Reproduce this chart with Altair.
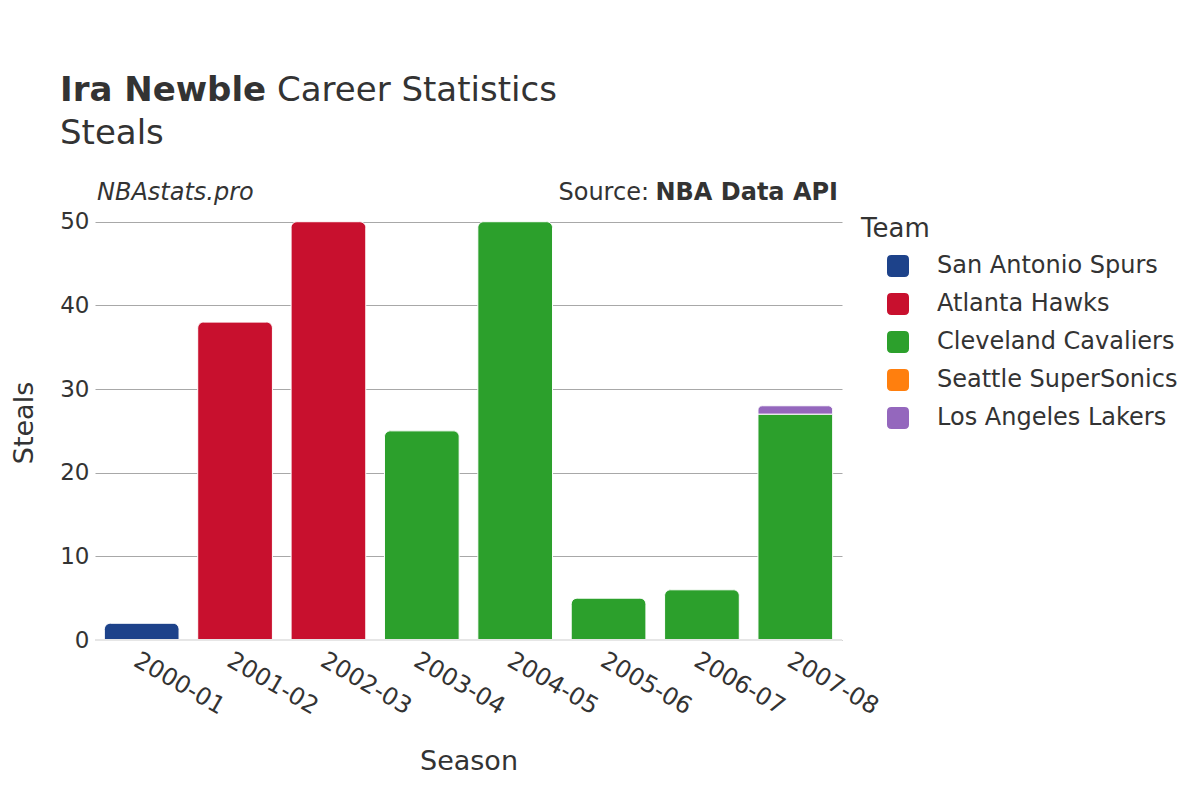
import altair as alt
import pandas as pd

seasons = ["2000-01", "2001-02", "2002-03", "2003-04", "2004-05", "2005-06", "2006-07", "2007-08", "2007-08", "2007-08"]
teams = ["San Antonio Spurs", "Atlanta Hawks", "Atlanta Hawks", "Cleveland Cavaliers", "Cleveland Cavaliers",
         "Cleveland Cavaliers", "Cleveland Cavaliers", "Cleveland Cavaliers", "Seattle SuperSonics", "Los Angeles Lakers"]
steals = [2, 38, 50, 25, 50, 5, 6, 27, 0, 1]

team_order = ["San Antonio Spurs", "Atlanta Hawks", "Cleveland Cavaliers", "Seattle SuperSonics", "Los Angeles Lakers"]
team_colors = ["#1d428a", "#c8102e", "#2ca02c", "#ff7f0e", "#9467bd"]
season_order = ["2000-01", "2001-02", "2002-03", "2003-04", "2004-05", "2005-06", "2006-07", "2007-08"]

df = pd.DataFrame({"Season": seasons, "Team": teams, "Steals": steals})
df["order"] = [team_order.index(t) for t in teams]

FONT = "DejaVu Sans"
TXT = "#333333"
rounded = "M-0.6,-1 L0.6,-1 Q1,-1 1,-0.6 L1,0.6 Q1,1 0.6,1 L-0.6,1 Q-1,1 -1,0.6 L-1,-0.6 Q-1,-1 -0.6,-1 Z"

base = alt.Chart(df).transform_filter("datum.Steals > 0").transform_stack(
    stack="Steals", groupby=["Season"], as_=["y0", "y1"], sort=[alt.SortField("order", "ascending")]
).transform_joinaggregate(top="max(y1)", groupby=["Season"])

x_enc = alt.X("Season:N", sort=season_order, scale=alt.Scale(domain=season_order, paddingInner=0.2, paddingOuter=0.1),
              axis=alt.Axis(title="Season", labelAngle=30, labelAlign="left", labelBaseline="top",
                            labelFontSize=24, titleFontSize=27, labelPadding=8, titlePadding=30,
                            ticks=False, domain=False, labelColor=TXT, titleColor=TXT, labelFont=FONT, titleFont=FONT,
                            titleFontWeight="normal"))
y_enc = alt.Y("y0:Q", scale=alt.Scale(domain=[0, 52], nice=False),
              axis=alt.Axis(title="Steals", values=[0, 10, 20, 30, 40, 50], labelFontSize=23, titleFontSize=27,
                            labelPadding=6, titlePadding=21, ticks=False, domain=False, gridColor="#a8a8a8",
                            labelColor=TXT, titleColor=TXT, labelFont=FONT, titleFont=FONT, titleFontWeight="normal"))
color_enc = alt.Color("Team:N", scale=alt.Scale(domain=team_order, range=team_colors),
                      legend=alt.Legend(title="Team", orient="none", legendX=766, legendY=11,
                                        titleFontSize=26, labelFontSize=24, titleFont=FONT, labelFont=FONT,
                                        titleColor=TXT, labelColor=TXT, titleFontWeight="normal",
                                        symbolType=rounded, symbolSize=484, symbolOpacity=1, symbolStrokeWidth=0,
                                        rowPadding=14, labelOffset=27, titlePadding=12, padding=0,
                                        symbolOffset=25, labelLimit=0))

bars_top = base.transform_filter("datum.y1 == datum.top").mark_bar(
    cornerRadiusTopLeft=6, cornerRadiusTopRight=6, stroke="white", strokeWidth=1
).encode(x=x_enc, y=y_enc, y2="y1:Q", color=color_enc)

bars_low = base.transform_filter("datum.y1 != datum.top").mark_bar(
    stroke="white", strokeWidth=1
).encode(x=x_enc, y=y_enc, y2="y1:Q", color=color_enc)

zero = alt.Chart(pd.DataFrame({"v": [0]})).mark_rule(color="#e6e6e6", strokeWidth=2).encode(y=alt.Y("v:Q"))

texts = pd.DataFrame({"t": ["Ira Newble", "Career Statistics", "Steals", "NBAstats.pro", "Source:", "NBA Data API"]})

def txt(i, x, y, size, weight="normal", style="normal", align="left"):
    return alt.Chart(texts).transform_filter(f"datum.t == '{texts.t[i]}'").mark_text(
        font=FONT, fontSize=size, fontWeight=weight, fontStyle=style, align=align, baseline="alphabetic",
        color=TXT, clip=False
    ).encode(text="t:N", x=alt.value(x), y=alt.value(y))

annotations = [
    txt(0, -35, -104, 34, weight="bold"),
    txt(1, 182, -104, 34),
    txt(2, -35, -61, 34),
    txt(3, 2, -5, 24, style="italic"),
    txt(4, 554, -5, 24, align="right"),
    txt(5, 743, -5, 24, weight="bold", align="right"),
]

chart = alt.layer(bars_low, bars_top, zero, *annotations).properties(
    width=747, height=435,
    autosize=alt.AutoSizeParams(type="none"),
    padding={"left": 87, "top": 197, "right": 350, "bottom": 150},
    background="white",
).configure_view(stroke=None).configure_axis(gridColor="#a8a8a8")

chart.save("out.html", embed_options={"renderer": "svg", "actions": False})
